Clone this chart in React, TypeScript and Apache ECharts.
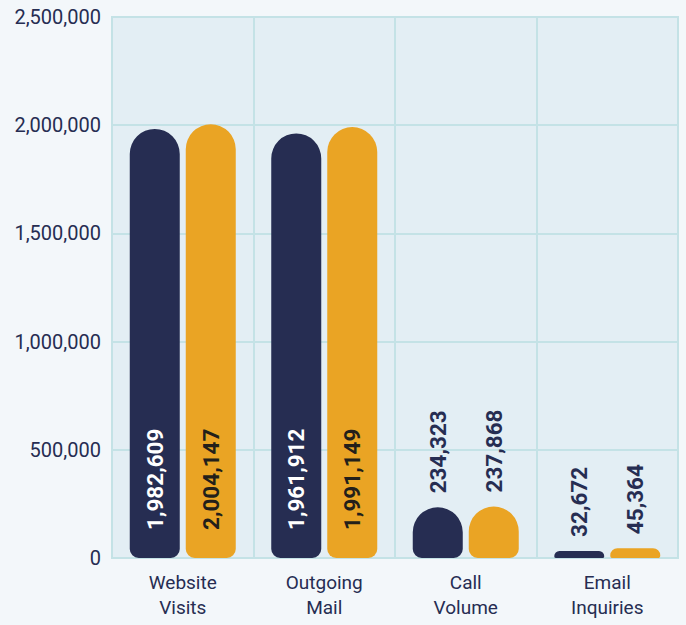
import React, { useEffect, useRef } from "react";
import * as echarts from "echarts";

const categories = ["Website\nVisits", "Outgoing\nMail", "Call\nVolume", "Email\nInquiries"];
const seriesA = [1982609, 1961912, 234323, 32672];
const seriesB = [2004147, 1991149, 237868, 45364];
const yTicks = [0, 500000, 1000000, 1500000, 2000000, 2500000];

const FONT = "Roboto, 'Liberation Sans', sans-serif";
const NAVY = "#262d52";
const ORANGE = "#eaa424";
const GRID = "#c4e2e6";
const fmt = (v: number) => v.toLocaleString("en-US");

function makeData(vals: number[], insideColor: string) {
  return vals.map((v) => {
    const inside = v > 1000000;
    return {
      value: v,
      label: inside
        ? {
            show: true,
            position: "insideBottom",
            distance: 28,
            rotate: 90,
            align: "left",
            verticalAlign: "middle",
            color: insideColor,
          }
        : {
            show: true,
            position: "top",
            distance: 14,
            rotate: 90,
            align: "left",
            verticalAlign: "middle",
            color: NAVY,
          },
    };
  });
}

export default function App() {
  const ref = useRef<HTMLDivElement>(null);
  useEffect(() => {
    document.body.style.margin = "0";
    document.body.style.background = "#f3f7fa";
    const chart = echarts.init(ref.current!, null, { renderer: "svg" });
    const labelCommon = {
      fontFamily: FONT,
      fontWeight: "bold" as const,
      fontSize: 22.5,
      formatter: (p: any) => fmt(p.value),
    };
    chart.setOption({
      animation: false,
      backgroundColor: "#f3f7fa",
      grid: {
        left: 112,
        right: 8,
        top: 17,
        bottom: 67,
        outerBoundsMode: "none",
        show: true,
        backgroundColor: "#e3eef4",
        borderColor: GRID,
        borderWidth: 2,
      },
      xAxis: {
        type: "category",
        data: categories,
        axisTick: { show: false },
        axisLine: { show: true, lineStyle: { color: GRID, width: 2 } },
        splitLine: { show: true, lineStyle: { color: GRID, width: 2 } },
        axisLabel: {
          fontFamily: FONT,
          fontSize: 19,
          lineHeight: 25,
          color: NAVY,
          margin: 12,
        },
      },
      yAxis: {
        type: "value",
        min: 0,
        max: yTicks[yTicks.length - 1],
        interval: 500000,
        axisLine: { show: false },
        axisTick: { show: false },
        splitLine: { show: true, lineStyle: { color: GRID, width: 2 } },
        axisLabel: {
          fontFamily: FONT,
          fontSize: 20,
          color: NAVY,
          margin: 11,
          formatter: (v: number) => fmt(v),
        },
      },
      series: [
        {
          type: "bar",
          data: makeData(seriesA, "#ffffff"),
          barWidth: 50,
          barGap: "12%",
          itemStyle: { color: NAVY, borderRadius: [25, 25, 9, 9] },
          label: labelCommon,
        },
        {
          type: "bar",
          data: makeData(seriesB, "#231f1a"),
          barWidth: 50,
          barGap: "12%",
          itemStyle: { color: ORANGE, borderRadius: [25, 25, 9, 9] },
          label: labelCommon,
        },
      ],
    });
    return () => chart.dispose();
  }, []);
  return <div ref={ref} style={{ width: 686, height: 625 }} />;
}
